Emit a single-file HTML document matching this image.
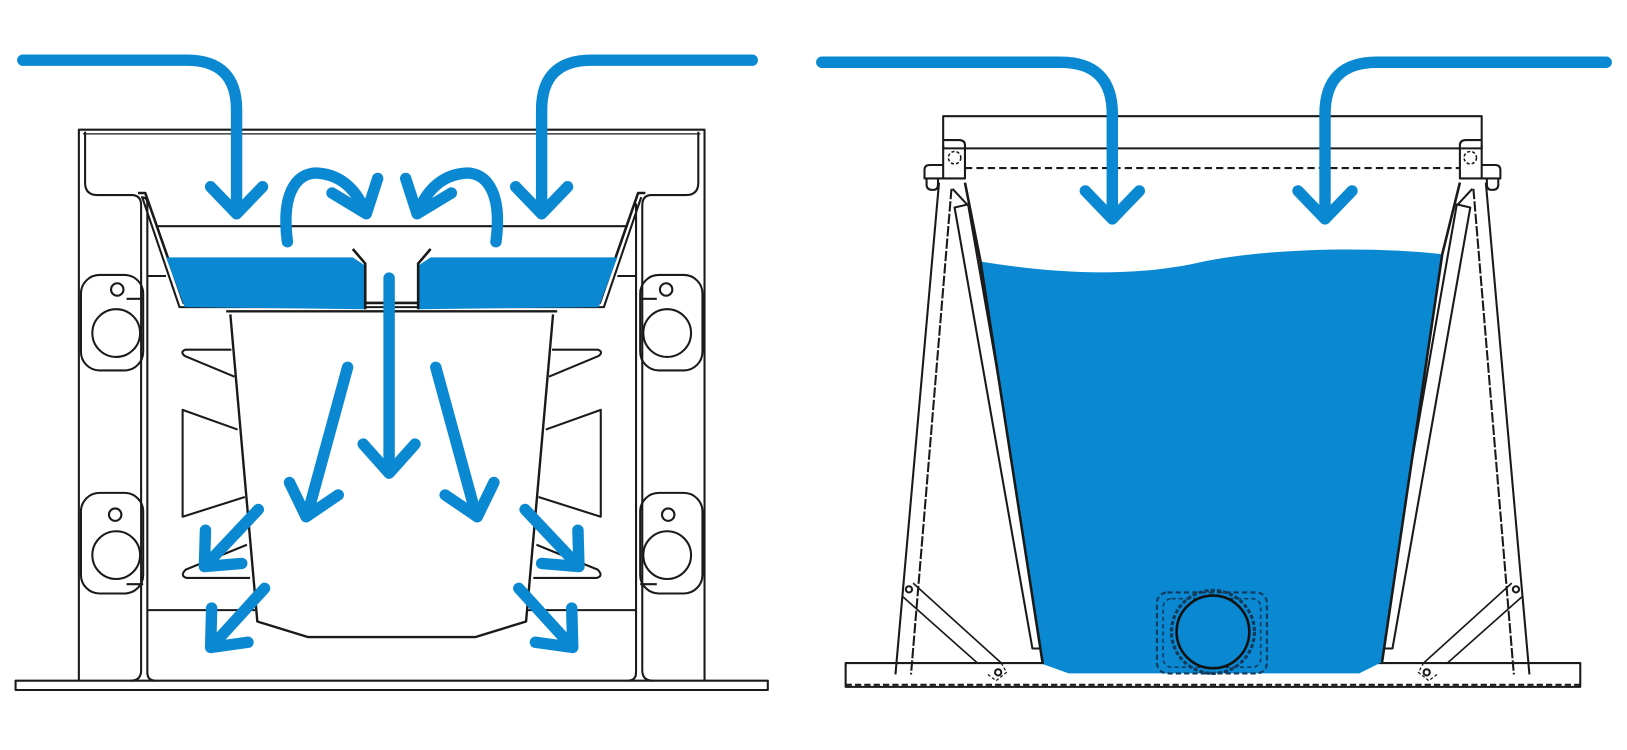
<!DOCTYPE html>
<html><head><meta charset="utf-8"><style>
html,body{margin:0;padding:0;background:#fff;}
svg{display:block;}
</style></head><body>
<svg width="1627" height="750" viewBox="0 0 1627 750" xmlns="http://www.w3.org/2000/svg">
<g transform="scale(1.0376)">
<g fill="none" stroke="#1a1a1a" stroke-width="2" stroke-linejoin="round">
<!-- LEFT DIAGRAM -->
<rect x="15" y="656" width="725" height="9" fill="#fff"/>
<path d="M76,656 V125 H679 V656"/>
<path d="M80,129 H675" stroke-width="1.2"/>
<path d="M82,127 V176 Q82,188 94,188 H127 Q136,188 136,198 V646 Q136,656 126,656"/>
<path d="M142,196 Q142,190 136,190 M142,196 V648 Q142,656 150,656"/>
<path d="M673,127 V176 Q673,188 661,188 H628 Q619,188 619,198 V646 Q619,656 629,656"/>
<path d="M613,196 V648 Q613,656 605,656"/>
<path d="M133,186 H140 L177,292 H578 L615,186 H622" stroke-width="2.5"/>
<path d="M137,190 L173,296 H582 L618,190"/>
<path d="M150,218 H605"/>
<path d="M142,266 H160 M613,266 H595"/>
<path d="M142,588 H246 M613,588 H509"/>
<rect x="78" y="265" width="60" height="92" rx="18"/>
<circle cx="112" cy="321" r="23"/>
<circle cx="113" cy="279" r="6"/>
<path d="M122,288 H138"/>
<rect x="78" y="475" width="60" height="97" rx="18"/>
<circle cx="112" cy="535" r="23"/>
<circle cx="111" cy="496" r="6"/>
<path d="M122,563 H138"/>
<rect x="617" y="265" width="60" height="92" rx="18"/>
<circle cx="643" cy="321" r="23"/>
<circle cx="642" cy="279" r="6"/>
<path d="M617,288 H633"/>
<rect x="617" y="475" width="60" height="97" rx="18"/>
<circle cx="643" cy="535" r="23"/>
<circle cx="644" cy="496" r="6"/>
<path d="M617,563 H633"/>
<path d="M223,337 H179 Q173,339 178,343 L226,363"/>
<path d="M229,414 L176,395 V498 L236,479"/>
<path d="M238,525 L179,549 Q173,555 180,557 H241"/>
<path d="M532,337 H576 Q582,339 577,343 L529,363"/>
<path d="M526,414 L579,395 V498 L519,479"/>
<path d="M517,525 L576,549 Q582,555 575,557 H514"/>
<path d="M218,300 H537 M222,303 L248,599 L297,614 H458 L507,599 L533,303" fill="#fff" stroke-width="2.3"/>
</g>
<path d="M160,248 H340 L352,256 V298 L178,296 Z" fill="#0a89d2"/>
<path d="M595,248 H415 L403,256 V298 L577,296 Z" fill="#0a89d2"/>
<path d="M340,240 L352,254 V298 M415,240 L403,254 V298" fill="none" stroke="#1a1a1a" stroke-width="2.5"/>
<g fill="none" stroke="#0a89d2" stroke-width="11" stroke-linecap="round" stroke-linejoin="round">
<path d="M22,58 H180 Q228,58 228,106 V205"/>
<path d="M203,180 L228,206 L253,180"/>
<path d="M725,58 H570 Q522,58 522,106 V205"/>
<path d="M497,180 L522,206 L547,180"/>
<path d="M277,233 C270,180 290,165 308,167 C330,169 345,185 352,205"/>
<path d="M320,186 L353,206 L364,172"/>
<path d="M478,233 C485,180 465,165 447,167 C425,169 410,185 403,205"/>
<path d="M435,186 L402,206 L391,172"/>
<path d="M375,268 V455"/>
<path d="M350,428 L375,456 L400,428"/>
<path d="M335,354 L296,497"/>
<path d="M279,465 L295,498 L326,477"/>
<path d="M420,354 L459,497"/>
<path d="M476,465 L460,498 L429,477"/>
<path d="M249,491 L198,545"/>
<path d="M198,511 L197,546 L233,543"/>
<path d="M506,491 L557,545"/>
<path d="M557,511 L558,546 L522,543"/>
<path d="M255,567 L204,623"/>
<path d="M204,586 L203,624 L239,619"/>
<path d="M500,567 L551,623"/>
<path d="M551,586 L552,624 L516,619"/>
</g>

<!-- RIGHT DIAGRAM -->
<g fill="none" stroke="#1a1a1a" stroke-width="2" stroke-linejoin="round">
<rect x="815" y="639" width="708" height="23" fill="#fff"/>
<path d="M815,660 H1523" stroke-dasharray="6 3"/>
<rect x="909" y="112" width="519" height="31" fill="#fff"/>
<path d="M930,162 H1407" stroke-dasharray="7 4"/>
<path d="M909,140 V172 H930 V140 Q930,135 924,135 H909"/>
<path d="M1428,140 V172 H1407 V140 Q1407,135 1413,135 H1428"/>
<path d="M909,159 H896 Q891,159 891,164 V172 H909"/>
<path d="M1428,159 H1441 Q1446,159 1446,164 V172 H1428"/>
<path d="M893,172 V178 Q893,183 899,183 Q904,183 904,178 V172"/>
<path d="M1444,172 V178 Q1444,183 1438,183 Q1433,183 1433,178 V172"/>
<circle cx="920" cy="152" r="6" stroke-dasharray="3 2" stroke-width="1.5"/>
<circle cx="1417" cy="152" r="6" stroke-dasharray="3 2" stroke-width="1.5"/>
<path d="M905,176 L863,650"/>
<path d="M917,182 L878,650" stroke-dasharray="10 2"/>
<path d="M918,182 L932,197"/>
<path d="M920,200 L995,625 H1008 L933,197 Z"/>
<path d="M1432,176 L1474,650"/>
<path d="M1420,182 L1459,650" stroke-dasharray="10 2"/>
<path d="M1419,182 L1405,197"/>
<path d="M1417,200 L1342,625 H1329 L1404,197 Z"/>
<!-- braces -->
<path d="M880,562 L965,639 M870,575 L942,639" stroke-width="1.6"/>
<path d="M965,639 L970,648 L960,656 L952,650" stroke-dasharray="3 2" stroke-width="1.2"/>
<circle cx="876" cy="568" r="3"/>
<circle cx="962" cy="648" r="3"/>
<path d="M1457,562 L1372,639 M1467,575 L1395,639" stroke-width="1.6"/>
<path d="M1372,639 L1367,648 L1377,656 L1385,650" stroke-dasharray="3 2" stroke-width="1.2"/>
<circle cx="1461" cy="568" r="3"/>
<circle cx="1375" cy="648" r="3"/>
</g>
<path d="M945,252 C1030,266 1100,266 1160,252 C1230,238 1330,238 1390,245 L1332,638 L1310,649 L1030,649 L1005,640 Z" fill="#0a89d2"/>
<path d="M930,176 L945,252 L1005,640 M1407,176 L1390,245 L1332,638" fill="none" stroke="#1a1a1a" stroke-width="2.5"/>
<rect x="1115" y="571" width="106" height="78" rx="10" fill="none" stroke="#123a5a" stroke-width="2" stroke-dasharray="5 3"/>
<rect x="1121" y="577" width="94" height="66" rx="8" fill="none" stroke="#123a5a" stroke-width="1.5" stroke-dasharray="4 3"/>
<circle cx="1169" cy="609" r="40" fill="none" stroke="#123a5a" stroke-width="3" stroke-dasharray="4 2"/>
<circle cx="1169" cy="609" r="35" fill="#0a89d2" stroke="#111" stroke-width="2.5"/>
<g fill="none" stroke="#0a89d2" stroke-width="11" stroke-linecap="round" stroke-linejoin="round">
<path d="M792,60 H1022 Q1072,60 1072,110 V210"/>
<path d="M1046,184 L1072,211 L1098,184"/>
<path d="M1548,60 H1327 Q1277,60 1277,110 V210"/>
<path d="M1251,184 L1277,211 L1303,184"/>
</g>
</g>
</svg>
</body></html>
